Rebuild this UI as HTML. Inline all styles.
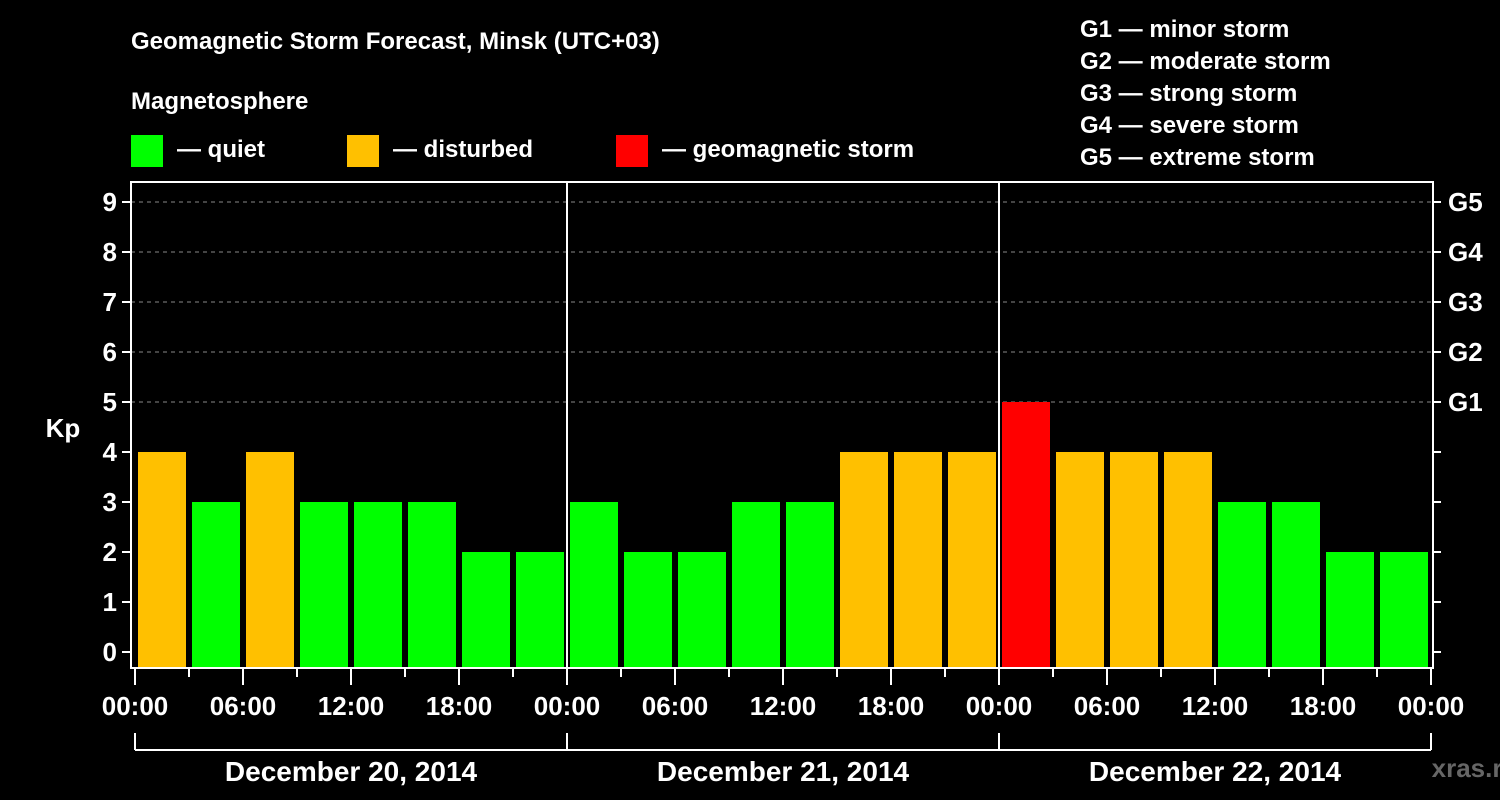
<!DOCTYPE html>
<html><head><meta charset="utf-8"><style>
html,body{margin:0;padding:0;background:#000;}
svg{display:block;font-family:"Liberation Sans",Arial,sans-serif;font-weight:bold;}
</style></head><body>
<svg id="chart" width="1500" height="800" viewBox="0 0 1500 800">
<rect width="1500" height="800" fill="#000"/>
<text x="131" y="49" fill="#fff" font-size="24">Geomagnetic Storm Forecast, Minsk (UTC+03)</text>
<text x="131" y="109" fill="#fff" font-size="24">Magnetosphere</text>
<g><rect x="131" y="135" width="32" height="32" fill="#00ff00"/><text x="177" y="157" fill="#fff" font-size="24">— quiet</text></g>
<g><rect x="347" y="135" width="32" height="32" fill="#ffc000"/><text x="393" y="157" fill="#fff" font-size="24">— disturbed</text></g>
<g><rect x="616" y="135" width="32" height="32" fill="#ff0000"/><text x="662" y="157" fill="#fff" font-size="24">— geomagnetic storm</text></g>
<g fill="#fff" font-size="24">
<text x="1080" y="37">G1 — minor storm</text>
<text x="1080" y="69">G2 — moderate storm</text>
<text x="1080" y="101">G3 — strong storm</text>
<text x="1080" y="133">G4 — severe storm</text>
<text x="1080" y="165">G5 — extreme storm</text>
</g>
<text x="63" y="437" fill="#fff" font-size="26" text-anchor="middle">Kp</text>
<text x="1475" y="777" fill="#666" font-size="26" text-anchor="middle">xras.ru</text>
<g id="layer"></g>
</svg>
<script>
const days = ["December 20, 2014","December 21, 2014","December 22, 2014"];
const kpValues = [4,3,4,3,3,3,2,2, 3,2,2,3,3,4,4,4, 5,4,4,4,3,3,2,2];
const yTicks = [0,1,2,3,4,5,6,7,8,9];
const gLabels = ["G1","G2","G3","G4","G5"];
const gLevels = [5,6,7,8,9];
const hourLabels = ["00:00","06:00","12:00","18:00"];

const NS="http://www.w3.org/2000/svg";
const layer=document.getElementById('layer');
const L=131,R=1433,T=182,B=668;
const x0=135, dayW=432, slots=8;
const slotW=dayW/slots;
const y=v=>652-50*v;
const x=slot=>x0+slot*slotW;
function mk(tag,attrs,parent){const e=document.createElementNS(NS,tag);for(const k in attrs)e.setAttribute(k,attrs[k]);(parent||layer).appendChild(e);return e;}
function color(v){return v>=5?"#ff0000":(v>=4?"#ffc000":"#00ff00");}

// gridlines
gLevels.forEach((lv,i)=>{
  const g=mk('line',{x1:L,x2:R,y1:y(lv),y2:y(lv),stroke:'#888','stroke-dasharray':'4,4','stroke-width':1});
  
  
  const t=mk('line',{x1:R,x2:R+8,y1:y(lv),y2:y(lv),stroke:'#fff','stroke-width':2});
  
  
  const tx=mk('text',{x:R+15,y:y(lv)+9,fill:'#fff','font-size':26});
  tx.textContent=gLabels[i];
  
  
});
[0,1,2,3,4].forEach(lv=>{
  const t=mk('line',{x1:R,x2:R+8,y1:y(lv),y2:y(lv),stroke:'#fff','stroke-width':2});
  
  
});
// bars
kpValues.forEach((v,i)=>{
  const b=mk('rect',{x:x(i)+3,y:y(v),width:slotW-6,height:B-y(v),fill:color(v)});
  
  
});
// day separators
for(let d=1;d<days.length;d++){
  const s=mk('line',{x1:x(d*slots),x2:x(d*slots),y1:T,y2:B,stroke:'#fff','stroke-width':2});
  
  
}
// frame
const f=mk('rect',{x:L,y:T,width:R-L,height:B-T,fill:'none',stroke:'#fff','stroke-width':2});


// y ticks
yTicks.forEach(v=>{
  const t=mk('line',{x1:L-9,x2:L,y1:y(v),y2:y(v),stroke:'#fff','stroke-width':2});
  
  
  const tx=mk('text',{x:L-14,y:y(v)+9,fill:'#fff','font-size':26,'text-anchor':'end'});
  tx.textContent=v;
  
  
});
// x ticks
const total=days.length*slots;
for(let i=0;i<=total;i++){
  const major=i%2===0;
  const t=mk('line',{x1:x(i),x2:x(i),y1:B,y2:B+(major?17:9),stroke:'#fff','stroke-width':2});
  
  
  if(major){
    const tx=mk('text',{x:x(i),y:715,fill:'#fff','font-size':26,'text-anchor':'middle'});
    tx.textContent=hourLabels[(i/2)%hourLabels.length];
    
    
  }
}
// day bracket
const br=mk('line',{x1:x(0),x2:x(total),y1:750,y2:750,stroke:'#fff','stroke-width':2});


for(let d=0;d<=days.length;d++){
  const t=mk('line',{x1:x(d*slots),x2:x(d*slots),y1:733,y2:750,stroke:'#fff','stroke-width':2});
  
  
}
days.forEach((d,i)=>{
  const tx=mk('text',{x:x(i*slots)+dayW/2,y:781,fill:'#fff','font-size':28,'text-anchor':'middle'});
  tx.textContent=d;
  
  
});
</script>
</body></html>
